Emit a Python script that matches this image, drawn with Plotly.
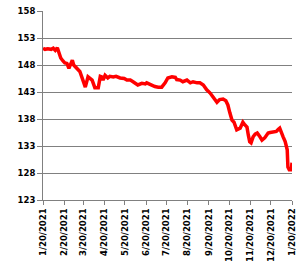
import plotly.graph_objects as go

dates = [
    "2021-01-20", "2021-01-23", "2021-01-27", "2021-02-01", "2021-02-04", "2021-02-07",
    "2021-02-10", "2021-02-12", "2021-02-15", "2021-02-18", "2021-02-21", "2021-02-24",
    "2021-02-27", "2021-03-02", "2021-03-04", "2021-03-06", "2021-03-11", "2021-03-15",
    "2021-03-20", "2021-03-23", "2021-03-27", "2021-04-02", "2021-04-06", "2021-04-11",
    "2021-04-14", "2021-04-16", "2021-04-18", "2021-04-21", "2021-04-25", "2021-04-28",
    "2021-05-03", "2021-05-07", "2021-05-13", "2021-05-19", "2021-05-23", "2021-05-28",
    "2021-06-01", "2021-06-05", "2021-06-08", "2021-06-14", "2021-06-19", "2021-06-21",
    "2021-06-26", "2021-06-29", "2021-07-03", "2021-07-08", "2021-07-13", "2021-07-18",
    "2021-07-22", "2021-07-28", "2021-08-02", "2021-08-04", "2021-08-09", "2021-08-13",
    "2021-08-19", "2021-08-24", "2021-08-28", "2021-09-03", "2021-09-07", "2021-09-12",
    "2021-09-14", "2021-09-17", "2021-09-22", "2021-09-26", "2021-10-02", "2021-10-06",
    "2021-10-11", "2021-10-15", "2021-10-18", "2021-10-21", "2021-10-24", "2021-10-27",
    "2021-10-31", "2021-11-05", "2021-11-09", "2021-11-12", "2021-11-15", "2021-11-17",
    "2021-11-19", "2021-11-21", "2021-11-24", "2021-11-27", "2021-11-30", "2021-12-04",
    "2021-12-07", "2021-12-11", "2021-12-16", "2021-12-19", "2021-12-23", "2021-12-28",
    "2021-12-31", "2022-01-02", "2022-01-07", "2022-01-10", "2022-01-13", "2022-01-14",
    "2022-01-16", "2022-01-19", "2022-01-20",
]
values = [
    151.1, 150.9, 151.0, 150.9, 151.1, 150.7,
    151.2, 150.5, 149.3, 148.8, 148.4, 148.3,
    147.4, 148.3, 148.9, 148.0, 147.4, 146.8,
    145.0, 143.9, 145.8, 145.2, 143.8, 143.8,
    145.9, 145.8, 145.2, 146.1, 145.6, 145.9,
    145.8, 145.9, 145.6, 145.5, 145.2, 145.2,
    144.9, 144.6, 144.3, 144.6, 144.5, 144.7,
    144.4, 144.1, 144.0, 143.9, 143.9, 144.7,
    145.6, 145.8, 145.7, 145.3, 145.2, 144.9,
    145.2, 144.7, 144.9, 144.7, 144.7, 144.3,
    143.9, 143.4, 142.8, 142.1, 141.1, 141.6,
    141.7, 141.4, 140.6, 139.1, 137.8, 137.4,
    136.0, 136.3, 137.4, 136.9, 136.5, 135.0,
    133.8, 133.6, 134.7, 135.2, 135.4, 134.7,
    134.1, 134.5, 135.4, 135.5, 135.6, 135.7,
    136.1, 136.3, 134.7, 133.8, 132.3, 129.1,
    128.6, 128.6, 129.9,
]

tick_dates = [
    "2021-01-20", "2021-02-20", "2021-03-20", "2021-04-20", "2021-05-20", "2021-06-20",
    "2021-07-20", "2021-08-20", "2021-09-20", "2021-10-20", "2021-11-20", "2021-12-20",
    "2022-01-20",
]
tick_labels = [
    "1/20/2021", "2/20/2021", "3/20/2021", "4/20/2021", "5/20/2021", "6/20/2021",
    "7/20/2021", "8/20/2021", "9/20/2021", "10/20/2021", "11/20/2021", "12/20/2021",
    "1/20/2022",
]
y_ticks = [123, 128, 133, 138, 143, 148, 153, 158]

fig = go.Figure()
fig.add_trace(go.Scatter(
    x=dates, y=values, mode="lines",
    line=dict(color="#FF0000", width=3.5),
    showlegend=False, hoverinfo="skip",
))

font = dict(family="DejaVu Sans", size=8.5, color="#000000")
fig.update_layout(
    width=307, height=268,
    margin=dict(l=43, r=15, t=11, b=68),
    paper_bgcolor="white", plot_bgcolor="white",
    showlegend=False,
    font=font,
)
fig.update_xaxes(
    type="date",
    range=["2021-01-20", "2022-01-20"],
    tickmode="array", tickvals=tick_dates, ticktext=[f"<b>{t}</b>" for t in tick_labels],
    tickangle=-90,
    ticks="outside", ticklen=4, tickcolor="#808080", tickwidth=1,
    showline=True, linecolor="#808080", linewidth=1,
    showgrid=False, zeroline=False,
    tickfont=font, automargin=False,
)
fig.update_yaxes(
    range=[123, 158],
    tickmode="array", tickvals=y_ticks, ticktext=[f"<b>{v}</b>" for v in y_ticks],
    ticks="outside", ticklen=5, tickcolor="#808080", tickwidth=1,
    showline=True, linecolor="#808080", linewidth=1,
    showgrid=True, gridcolor="#808080", gridwidth=1,
    zeroline=False,
    tickfont=font, automargin=False,
)

fig.write_html("out.html")
